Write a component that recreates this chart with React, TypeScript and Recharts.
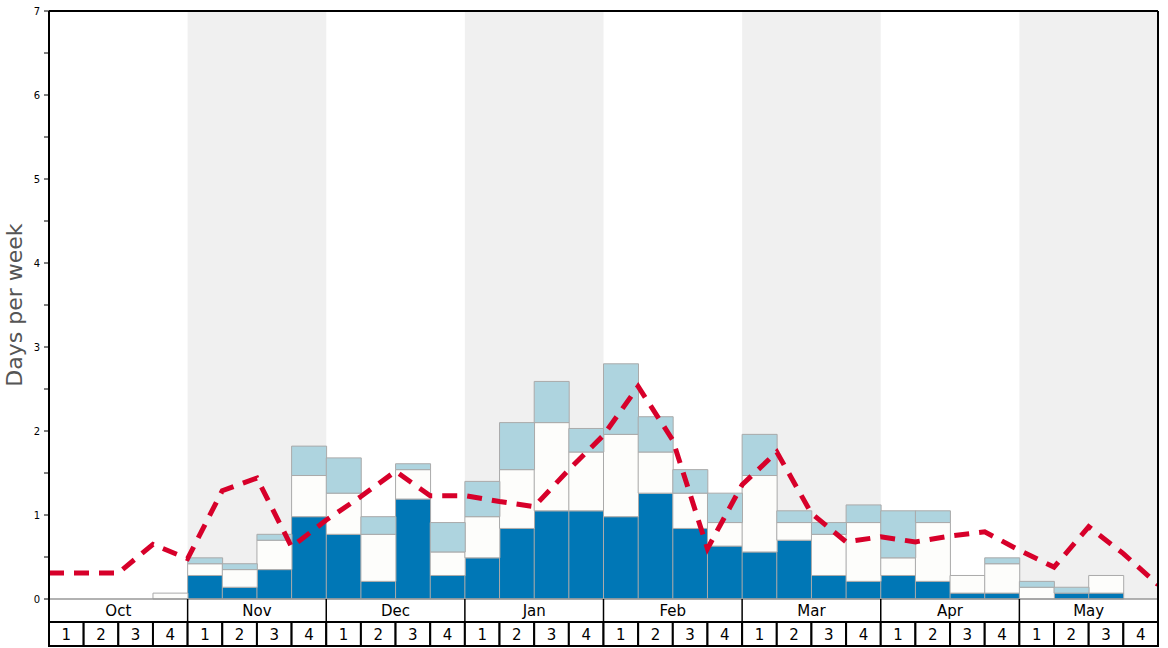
import { ComposedChart, Bar, Line, XAxis, YAxis, ReferenceArea } from "recharts";

const months = ["Oct", "Nov", "Dec", "Jan", "Feb", "Mar", "Apr", "May"];
const weekNums = [1, 2, 3, 4];
const weeks = months.flatMap((m) => weekNums.map((w) => `${m} ${w}`));

// stacked segments per week (days per week)
const dark = [
  0, 0, 0, 0,
  0.28, 0.14, 0.35, 0.98,
  0.77, 0.21, 1.19, 0.28,
  0.49, 0.84, 1.05, 1.05,
  0.98, 1.26, 0.84, 0.63,
  0.56, 0.7, 0.28, 0.21,
  0.28, 0.21, 0.07, 0.07,
  0, 0.07, 0.07, 0,
];
const mid = [
  0, 0, 0, 0.07,
  0.14, 0.21, 0.35, 0.49,
  0.49, 0.56, 0.35, 0.28,
  0.49, 0.7, 1.05, 0.7,
  0.98, 0.49, 0.42, 0.28,
  0.91, 0.21, 0.49, 0.7,
  0.21, 0.7, 0.21, 0.35,
  0.14, 0, 0.21, 0,
];
const light = [
  0, 0, 0, 0,
  0.07, 0.07, 0.07, 0.35,
  0.42, 0.21, 0.07, 0.35,
  0.42, 0.56, 0.49, 0.28,
  0.84, 0.42, 0.28, 0.35,
  0.49, 0.14, 0.14, 0.21,
  0.56, 0.14, 0, 0.07,
  0.07, 0.07, 0, 0,
];
// average line, sampled at week boundaries
const avg = [
  0.31, 0.31, 0.31, 0.65, 0.48, 1.29, 1.44, 0.62, 0.94, 1.22, 1.52, 1.23,
  1.23, 1.16, 1.1, 1.54, 1.95, 2.53, 1.89, 0.6, 1.36, 1.75, 1.02, 0.68,
  0.74, 0.68, 0.75, 0.8, 0.58, 0.38, 0.86, 0.54, 0.17,
];
const yTicks = [0, 0.5, 1, 1.5, 2, 2.5, 3, 3.5, 4, 4.5, 5, 5.5, 6, 6.5, 7];
const shaded = [[4, 8], [12, 16], [20, 24], [28, 32]];

const data = weeks.map((w, i) => ({ week: w, dark: dark[i], mid: mid[i], light: light[i] }));
const lineData = avg.map((v, i) => ({ pos: i, v }));

const W = 1168;
const H = 648;
const LEFT = 49;
const RIGHT = 1158;
const TOP = 11;
const BOTTOM = 599;
const BW = (RIGHT - LEFT) / weeks.length;
const font = "DejaVu Sans, sans-serif";

function WeekTick(props: any) {
  const { x, payload } = props;
  const i = weeks.indexOf(payload.value);
  const x0 = x - BW / 2;
  return (
    <g>
      <rect x={x0} y={622} width={BW} height={24} fill="#fff" stroke="#000" strokeWidth={2} />
      <text x={x} y={635} textAnchor="middle" dominantBaseline="central" fontSize={15} fontFamily={font} fill="#000">
        {weekNums[i % 4]}
      </text>
      {i % 4 === 0 && (
        <g>
          <line x1={x0} y1={BOTTOM} x2={x0} y2={622} stroke="#000" strokeWidth={1.5} />
          <text x={x0 + 2 * BW} y={611} textAnchor="middle" dominantBaseline="central" fontSize={15} fontFamily={font} fill="#000">
            {months[i / 4]}
          </text>
        </g>
      )}
      {i === 0 && (
        <g>
          <line x1={LEFT} y1={BOTTOM} x2={RIGHT} y2={BOTTOM} stroke="#999" strokeWidth={1.5} />
          <line x1={LEFT} y1={TOP} x2={RIGHT} y2={TOP} stroke="#000" strokeWidth={2} />
          <line x1={RIGHT} y1={TOP} x2={RIGHT} y2={646} stroke="#000" strokeWidth={2} />
          <line x1={LEFT} y1={TOP} x2={LEFT} y2={646} stroke="#000" strokeWidth={2} />
        </g>
      )}
    </g>
  );
}

export default function App() {
  return (
    <div style={{ position: "absolute", left: 0, top: 0, background: "#fff" }}>
      <ComposedChart
        width={W}
        height={H}
        data={data}
        margin={{ top: TOP, right: W - RIGHT, bottom: 0, left: 0 }}
        barCategoryGap={0}
        barGap={0}
      >
        <XAxis
          xAxisId="bars"
          dataKey="week"
          type="category"
          height={H - BOTTOM}
          interval={0}
          axisLine={false}
          tickLine={false}
          tick={<WeekTick />}
        />
        <XAxis xAxisId="line" dataKey="pos" type="number" domain={[0, 32]} allowDataOverflow hide />
        <YAxis
          width={LEFT}
          domain={[0, 7]}
          ticks={yTicks}
          interval={0}
          tickSize={5}
          tickMargin={4}
          tickFormatter={(v: number) => (Number.isInteger(v) ? String(v) : "")}
          tick={{ fontSize: 10, fill: "#000", fontFamily: font }}
          tickLine={{ stroke: "#000" }}
          axisLine={{ stroke: "#000", strokeWidth: 2 }}
          label={() => (
            <text
              x={14}
              y={305}
              transform="rotate(-90 14 305)"
              textAnchor="middle"
              dominantBaseline="central"
              fontSize={22}
              fontFamily={font}
              fill="#555"
            >
              Days per week
            </text>
          )}
        />
        {shaded.map(([a, b]) => (
          <ReferenceArea key={a} xAxisId="line" x1={a} x2={b} y1={0} y2={7} fill="#f0f0f0" fillOpacity={1} stroke="none" />
        ))}
        <Bar xAxisId="bars" dataKey="dark" stackId="s" fill="#0077b6" stroke="#aaa" strokeWidth={1} isAnimationActive={false} />
        <Bar xAxisId="bars" dataKey="mid" stackId="s" fill="#fdfdfb" stroke="#aaa" strokeWidth={1} isAnimationActive={false} />
        <Bar xAxisId="bars" dataKey="light" stackId="s" fill="#aed4df" stroke="#aaa" strokeWidth={1} isAnimationActive={false} />
        <Line
          xAxisId="line"
          data={lineData}
          dataKey="v"
          type="linear"
          stroke="#d7002a"
          strokeWidth={5}
          strokeDasharray="15 10"
          dot={false}
          isAnimationActive={false}
        />
      </ComposedChart>
    </div>
  );
}
